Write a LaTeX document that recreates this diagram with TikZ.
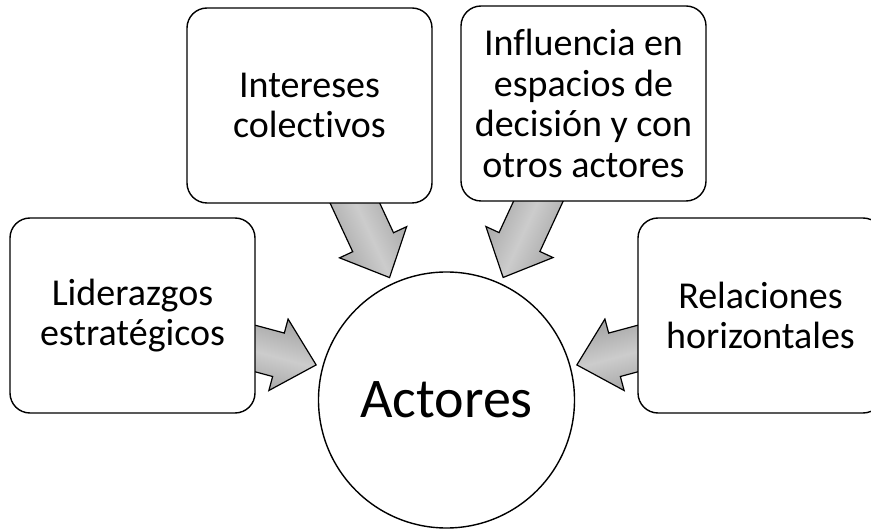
\documentclass[tikz,border=0pt]{standalone}
\usepackage{fontspec}
\setmainfont{Carlito}[Ligatures=NoCommon]
\usetikzlibrary{calc,backgrounds}

\begin{document}
\begin{tikzpicture}[x=1pt,y=-1pt,
  box/.style={draw,line width=1.4pt,rounded corners=20pt,fill=white,
    minimum width=\bw,minimum height=\bh,inner sep=0pt,align=center,
    font=\fontsize{38}{40.5}\selectfont},
  hub/.style={circle,draw,line width=1.4pt,fill=white,minimum size=256,
    inner sep=0pt,font=\fontsize{56}{60}\selectfont},
  bigarrow/.style={draw,line width=1.2pt,line join=miter,
    top color=gray!75,bottom color=gray!75,middle color=gray!40}]
  \def\bw{245};
  \def\bh{195};
  \def\cx{446.5};
  \def\cy{400};
  \def\gap{135};
  \def\hl{39};
  \def\hw{37};
  \def\sw{22.5};
  \useasboundingbox (0,0) rectangle (871,529);
  \clip (0,0) rectangle (871,529);
  \node[hub] (act) at (\cx,\cy) {Actores};
  \node[box] (lid) at (132.5,315.5) {Liderazgos\\estratégicos};
  \node[box] (int) at (309.5,105.5) {Intereses\\colectivos};
  \node[box] (inf) at (583.5,103.5) {Influencia en\\espacios de\\decisión y con\\otros actores};
  \node[box] (rel) at (760.5,315.5) {Relaciones\\horizontales};
  %block arrows, tails hidden under the boxes
  \begin{scope}[on background layer]
  \foreach \src in {lid,int,inf,rel}{
    \shade[bigarrow] let \p1=(\src.center), \p2=(act.center),
      \n1={atan2(\y2-\y1,\x2-\x1)}, \p3=($(act.center)!\gap pt!(\src.center)$) in
      [shading angle=\n1] [shift={(\p3)},rotate=\n1]
      (0,0)--(-\hl,\hw)--(-\hl,\sw)--(-110,\sw)--(-110,-\sw)--(-\hl,-\sw)--(-\hl,-\hw)--cycle;
  }
  \end{scope}
\end{tikzpicture}
\end{document}
